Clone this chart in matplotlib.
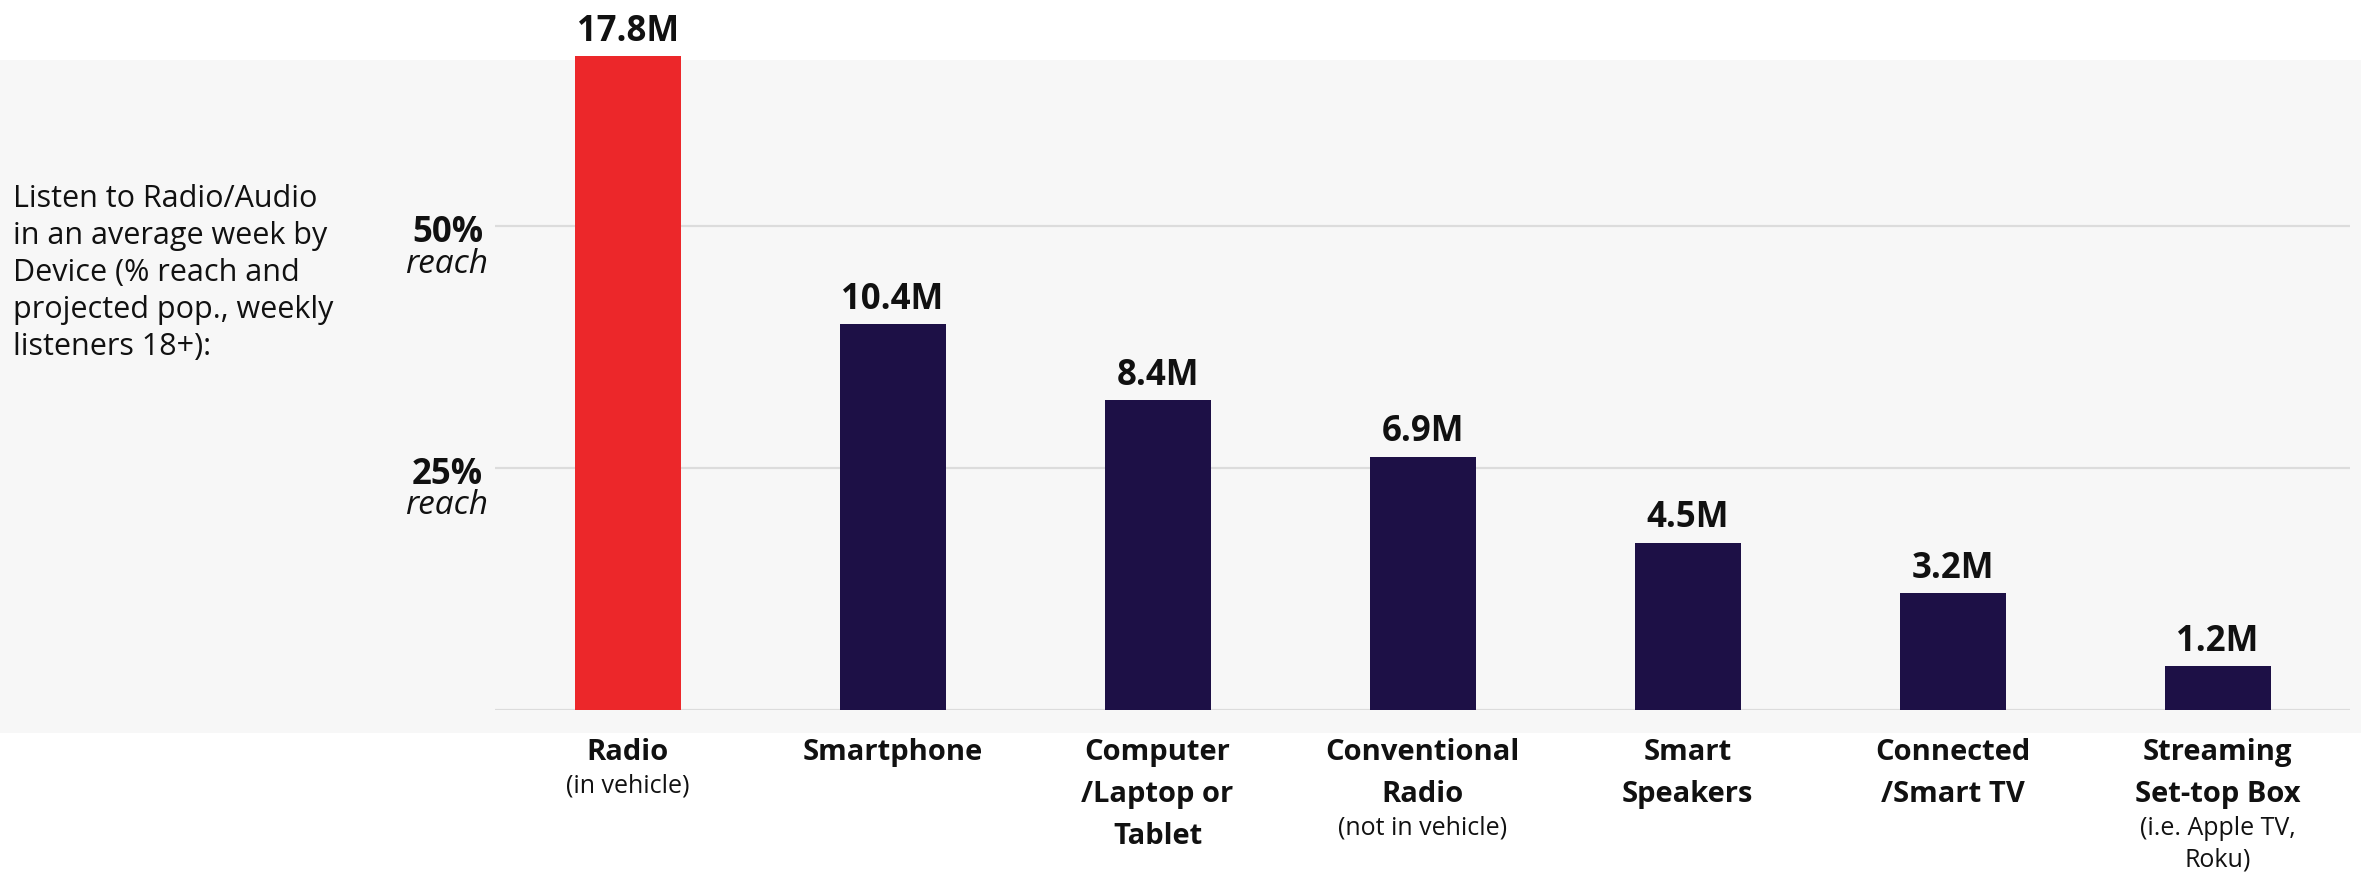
import matplotlib.pyplot as plt
from matplotlib.patches import Rectangle

# data
devices = ["Radio", "Smartphone", "Computer\n/Laptop or\nTablet", "Conventional\nRadio",
           "Smart\nSpeakers", "Connected\n/Smart TV", "Streaming\nSet-top Box"]
device_notes = ["(in vehicle)", "", "", "(not in vehicle)", "", "", "(i.e. Apple TV,\nRoku)"]
reach_pct = [67.6, 39.9, 32.0, 26.2, 17.3, 12.1, 4.5]
listeners = ["17.8M", "10.4M", "8.4M", "6.9M", "4.5M", "3.2M", "1.2M"]
grid_values = [0, 25, 50]
tick_labels = ["25%", "50%"]
tick_values = [25, 50]
description = ("Listen to Radio/Audio\nin an average week by\nDevice (% reach and\n"
               "projected pop., weekly\nlisteners 18+):")

RED = "#EC272A"
NAVY = "#1D1046"
PANEL = "#F7F7F7"
GRID = "#DCDCDC"
TXT = "#111111"

plt.rcParams['font.family'] = ['Open Sans', 'DejaVu Sans']

fig = plt.figure(figsize=(23.61, 8.72), dpi=100)
fig.patches.append(Rectangle((0, 0.1594), 1, 0.7718, transform=fig.transFigure,
                             facecolor=PANEL, edgecolor='none', zorder=-10))

ax = fig.add_axes([0.2097, 0.1858, 0.7857, 0.7764])
ax.set_facecolor('none')
ax.set_xlim(-0.5, 6.5)
ax.set_ylim(0, 70)
for s in ax.spines.values():
    s.set_visible(False)
ax.set_xticks([])
ax.set_yticks([])

for v in grid_values:
    ax.axhline(v, color=GRID, lw=1.6, zorder=0)

x = list(range(len(devices)))
colors = [RED if i == 0 else NAVY for i in x]
ax.bar(x, reach_pct, width=0.4, color=colors, zorder=2)

# value labels
for i, (v, lbl) in enumerate(zip(reach_pct, listeners)):
    ax.annotate(lbl, xy=(i, v), xytext=(0, 11), textcoords='offset points',
                ha='center', va='baseline', fontsize=25, fontweight='bold', color=TXT)

# y tick labels
ytr = ax.get_yaxis_transform()
for v, lbl in zip(tick_values, tick_labels):
    ax.annotate(lbl, xy=(0, v), xycoords=ytr, xytext=(-8.6, -11.2), textcoords='offset points',
                ha='right', va='baseline', fontsize=25, fontweight='bold', color=TXT)
    ax.annotate("reach", xy=(0, v), xycoords=ytr, xytext=(-5, -33.3), textcoords='offset points',
                ha='right', va='baseline', fontsize=24, style='italic', color=TXT)

# category labels
xtr = ax.get_xaxis_transform()
for i, (name, note) in enumerate(zip(devices, device_notes)):
    t = ax.annotate(name, xy=(i, 0), xycoords=xtr, xytext=(0, -20), textcoords='offset points',
                    ha='center', va='top', fontsize=21, fontweight='bold', color=TXT,
                    linespacing=1.6, annotation_clip=False)
    if note:
        ax.annotate(note, xy=(0.5, 0), xycoords=t, xytext=(0, -5), textcoords='offset points',
                    ha='center', va='top', fontsize=18, color=TXT, linespacing=1.35,
                    annotation_clip=False)

fig.text(0.0055, 0.687, description, ha='left', va='center', fontsize=22, color=TXT,
         linespacing=1.31)

fig.savefig("out.png", dpi=100)
